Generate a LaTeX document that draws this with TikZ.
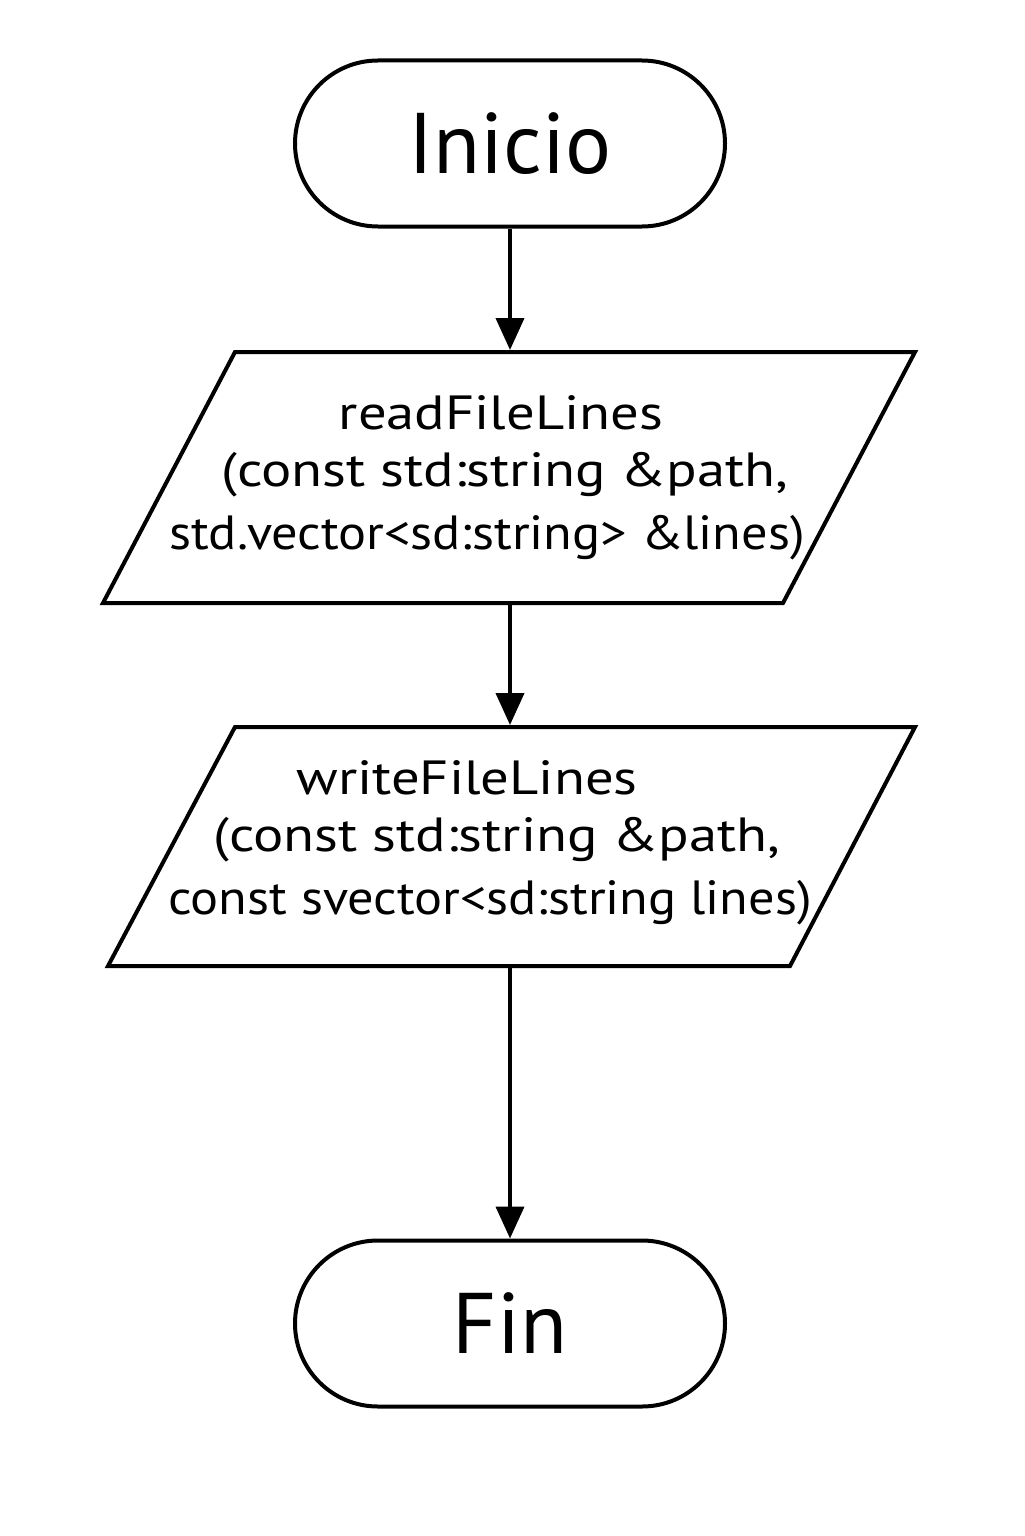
\documentclass[tikz,border=0pt]{standalone}
\usepackage{fontspec}
\setmainfont{PT Sans}
\newfontfamily\widefont[FakeStretch=1.18]{PT Sans}
\newfontfamily\midfont[FakeStretch=1.09]{PT Sans}
\usetikzlibrary{arrows.meta}
\begin{document}
\begin{tikzpicture}[x=0.5pt,y=-0.5pt,
  line width=2pt,
  term/.style={draw, rounded corners=41.5pt, minimum width=215pt, minimum height=83pt, inner sep=0pt, font=\fontsize{43}{48}\selectfont},
  iobox/.style={inner sep=0pt, minimum width=340pt},
  txt/.style={inner sep=0pt, font=\widefont\fontsize{24}{26}\selectfont},
  txtb/.style={inner sep=0pt, font=\midfont\fontsize{24}{26}\selectfont},
  flow/.style={-{Triangle[length=16pt,width=14pt]}}]
\useasboundingbox (0,0) rectangle (1024,1536);
\node[term] (start) at (510,143.5) {Inicio};
% read box
\draw (235,352) -- (915,352) -- (783,603) -- (103,603) -- cycle;
\node[iobox, minimum height=125.5pt] (read) at (510,477.5) {};
\node[txt] (r1) at (501,413) {readFileLines};
\node[txt] (r2) at (505,475) {(const std:string \&path,};
\node[txtb] (r3) at (487,538) {std.vector<sd:string> \&lines)};
% write box
\draw (235,727) -- (915,727) -- (790,966) -- (108,966) -- cycle;
\node[iobox, minimum height=119.5pt] (write) at (510,846.5) {};
\node[txt] (w1) at (467,778) {writeFileLines};
\node[txt] (w2) at (497,840) {(const std:string \&path,};
\node[txtb] (w3) at (490,903) {const svector<sd:string lines)};
\node[term] (end) at (510,1323.5) {Fin};
\draw[flow] (start.south) -- (read.north);
\draw[flow] (read.south) -- (write.north);
\draw[flow] (write.south) -- (end.north);
\end{tikzpicture}
\end{document}
